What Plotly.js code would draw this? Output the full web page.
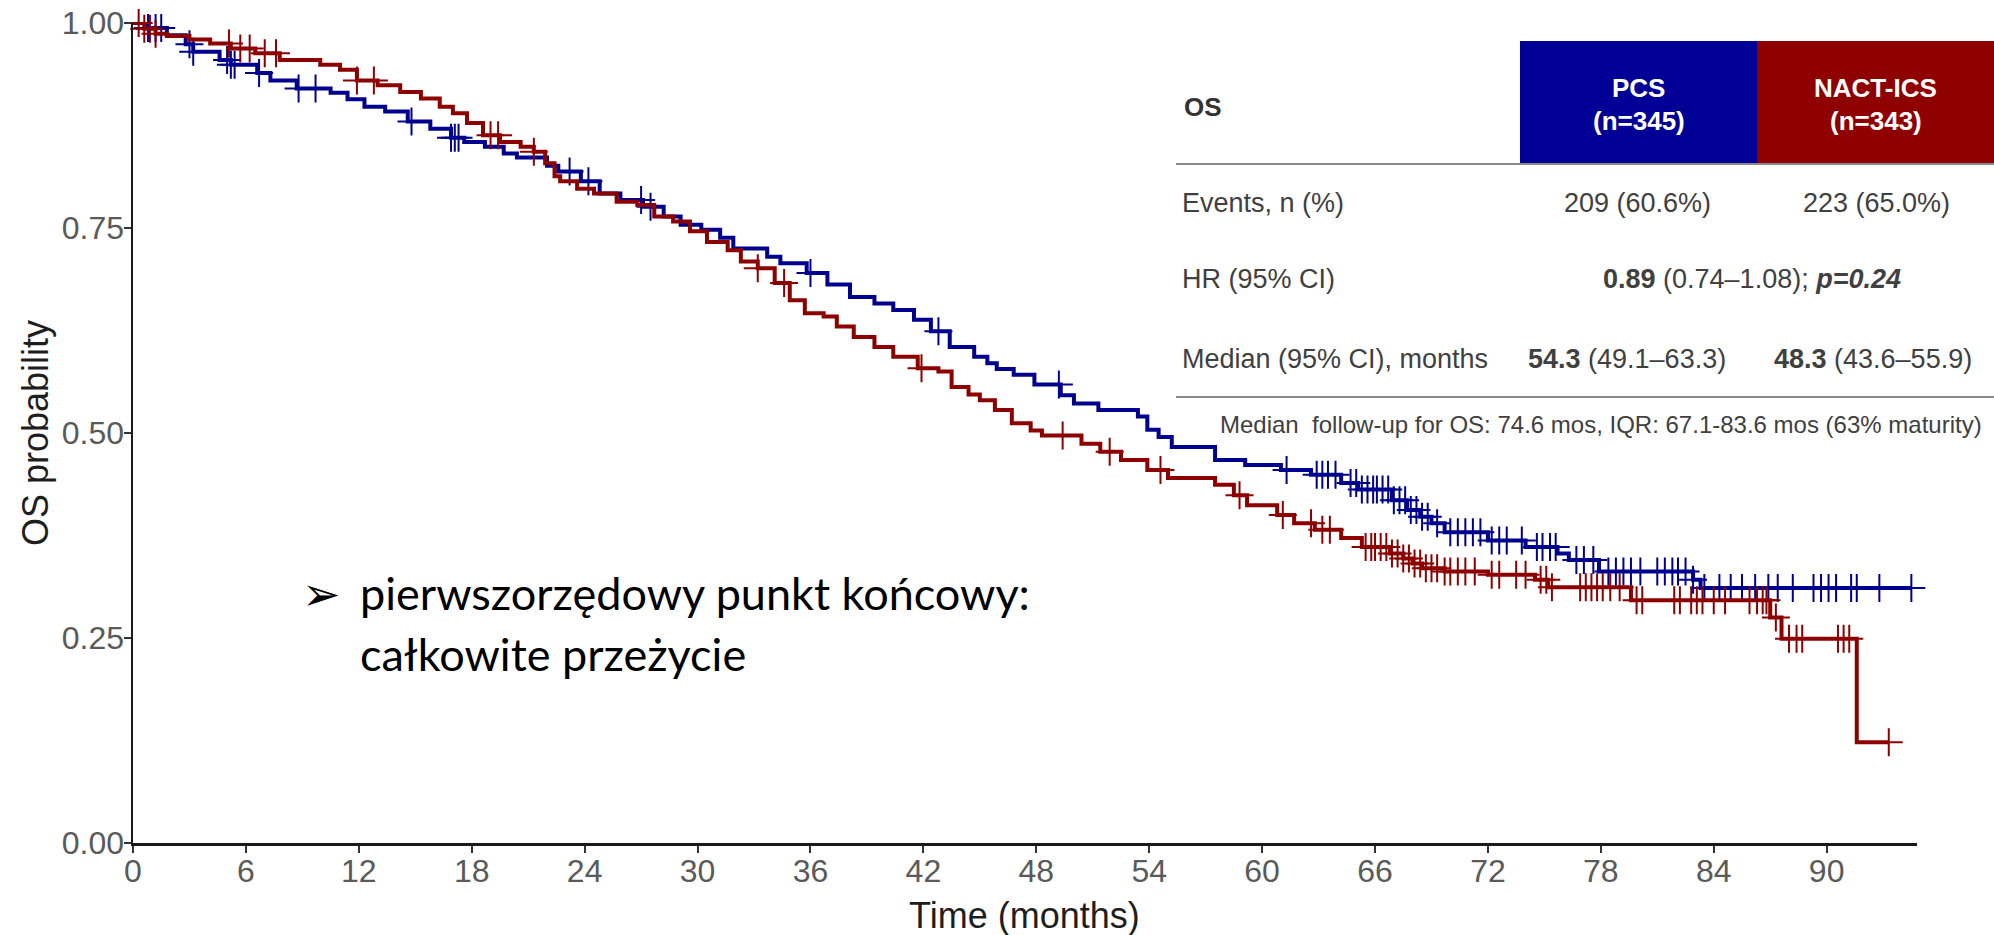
<!DOCTYPE html>
<html>
<head>
<meta charset="utf-8">
<script src="https://cdn.plot.ly/plotly-3.0.1.min.js"></script>
<style>html,body{margin:0;padding:0;background:#fff;}#chart{width:1994px;height:935px;}</style>
</head>
<body>
<div id="chart"></div>
<script>
// ---------- DATA ----------
// PCS (blue): step times (months) and survival after each step
const pcsTime = [0, 0.7, 1.8, 2.8, 3.2, 4.6, 5.2, 6.6, 7.3, 8.7, 10.5, 11.4, 12.3, 13.4, 14.6, 15.8, 16.9, 17.6, 18.7, 19.7, 20.4,
  22.0, 22.6, 23.8, 24.8, 25.9, 27.1, 28.2, 29.1, 30.2, 31.2, 31.9, 33.7, 34.4, 35.8, 36.9, 38.1, 39.4, 40.4, 41.5, 42.4, 43.4,
  44.7, 45.4, 45.9, 46.8, 47.9, 49.3, 50.0, 51.3, 53.4, 53.9, 54.5, 55.2, 57.5, 59.1, 61.0, 62.6, 64.2, 65.1, 66.9, 67.7, 68.4,
  69.0, 69.7, 72.0, 74.0, 75.7, 76.3, 77.9, 82.9, 83.3];
const pcsSurv = [1.0, 0.994, 0.985, 0.974, 0.965, 0.955, 0.949, 0.939, 0.930, 0.920, 0.915, 0.907, 0.898, 0.892, 0.880, 0.871, 0.860, 0.855, 0.849, 0.841, 0.836,
  0.826, 0.819, 0.807, 0.792, 0.784, 0.776, 0.764, 0.754, 0.748, 0.738, 0.725, 0.715, 0.707, 0.695, 0.681, 0.666, 0.658, 0.650, 0.638, 0.624, 0.605,
  0.593, 0.585, 0.578, 0.571, 0.559, 0.546, 0.536, 0.528, 0.520, 0.504, 0.495, 0.483, 0.467, 0.461, 0.455, 0.449, 0.439, 0.431, 0.418, 0.406, 0.398,
  0.390, 0.379, 0.369, 0.361, 0.353, 0.345, 0.331, 0.321, 0.311];
const pcsCensor = [0.8, 1.2, 1.5, 3.0, 3.2, 5.0, 5.2, 5.4, 6.7, 8.8, 9.7, 14.8, 16.9, 17.1, 17.3, 23.2, 24.2, 27.0, 27.5, 36.0, 42.8, 49.2,
  61.3, 62.9, 63.2, 63.5, 63.9, 64.7, 65.0, 65.3, 65.6, 65.9, 66.1, 66.4, 66.7, 67.0, 67.3, 67.6, 67.9, 68.2, 68.5, 68.8, 69.3, 70.0,
  70.4, 70.8, 71.2, 71.6, 72.2, 72.6, 73.0, 73.8, 74.6, 74.9, 75.3, 75.6, 76.7, 77.1, 77.6, 78.4, 78.8, 79.2, 79.6, 80.1, 81.0, 81.4,
  81.8, 82.1, 82.5, 82.9, 83.5, 84.3, 84.9, 85.5, 86.2, 86.9, 87.4, 88.2, 89.3, 89.7, 90.1, 90.5, 91.3, 91.6, 92.8, 94.5];

// NACT-ICS (red)
const nactTime = [0, 0.6, 1.2, 1.8, 3.0, 4.1, 5.2, 6.5, 7.8, 9.95, 11.0, 11.9, 13.0, 14.2, 15.3, 16.3, 17.0, 17.75, 18.6, 19.5, 20.6, 21.3,
  21.9, 22.4, 22.7, 23.6, 24.5, 25.7, 26.8, 27.7, 28.7, 29.6, 30.5, 31.6, 32.3, 33.2, 34.1, 34.9, 35.7, 36.7, 37.4, 38.3, 39.4, 40.4,
  41.7, 42.8, 43.5, 44.4, 45.0, 45.8, 46.7, 47.7, 48.3, 50.4, 51.4, 52.5, 53.9, 55.0, 57.5, 58.5, 59.2, 60.8, 61.7, 62.8, 64.2, 65.3,
  66.8, 67.5, 68.0, 68.5, 69.7, 72.0, 74.5, 75.2, 79.6, 87.0, 87.6, 91.6];
const nactSurv = [1.0, 0.993, 0.987, 0.984, 0.980, 0.975, 0.969, 0.963, 0.955, 0.949, 0.943, 0.930, 0.924, 0.916, 0.908, 0.898, 0.890, 0.878, 0.863, 0.855, 0.849, 0.843,
  0.829, 0.813, 0.807, 0.798, 0.792, 0.782, 0.778, 0.764, 0.758, 0.746, 0.733, 0.723, 0.709, 0.701, 0.683, 0.662, 0.646, 0.642, 0.630, 0.617, 0.605, 0.593,
  0.579, 0.575, 0.556, 0.547, 0.540, 0.528, 0.512, 0.503, 0.497, 0.487, 0.477, 0.467, 0.455, 0.445, 0.437, 0.424, 0.412, 0.400, 0.390, 0.382, 0.372, 0.361,
  0.353, 0.347, 0.341, 0.335, 0.331, 0.327, 0.321, 0.312, 0.296, 0.275, 0.249, 0.123];
const nactCensor = [0.3, 0.6, 0.9, 1.2, 5.1, 5.7, 6.2, 7.0, 7.6, 11.9, 12.8, 19.0, 19.4, 21.3, 33.2, 34.6, 41.9, 49.4, 51.9, 54.6, 58.8,
  61.1, 62.6, 63.2, 63.6, 65.5, 65.8, 66.0, 66.3, 66.6, 66.9, 67.2, 67.5, 67.8, 68.1, 68.4, 68.7, 69.0, 69.3, 69.7, 70.0, 70.4, 70.8,
  71.3, 72.2, 72.6, 73.5, 74.0, 74.8, 75.1, 75.4, 76.9, 77.2, 77.5, 77.8, 78.1, 78.5, 79.0, 79.9, 80.2, 81.9, 82.2, 82.8, 83.1, 83.4,
  84.0, 84.6, 85.9, 86.3, 86.6, 86.8, 87.3, 88.0, 88.4, 88.7, 90.6, 90.9, 91.2, 93.3];

const xTicks = [0, 6, 12, 18, 24, 30, 36, 42, 48, 54, 60, 66, 72, 78, 84, 90];
const yTicks = [0, 0.25, 0.5, 0.75, 1];
const xMax = 94.8;

// table content
const groupNames = ['PCS', 'NACT-ICS'];
const groupN = ['(n=345)', '(n=343)'];
const rowLabels = ['Events, n (%)', 'HR (95% CI)', 'Median (95% CI), months'];
const eventsCells = ['209 (60.6%)', '223 (65.0%)'];
const hrCell = '<b>0.89</b> (0.74–1.08); <b><i>p=0.24</i></b>';
const medianCells = ['<b>54.3</b> (49.1–63.3)', '<b>48.3</b> (43.6–55.9)'];
const footnote = 'Median  follow-up for OS: 74.6 mos, IQR: 67.1-83.6 mos (63% maturity)';
const bulletLines = ['pierwszorzędowy punkt końcowy:', 'całkowite przeżycie'];

// ---------- BUILD ----------
const BLUE = '#00008f', RED = '#8d0000';
const BOXBLUE = '#000096', BOXRED = '#8f0000';

function stepAt(times, surv, t) {
  let v = surv[0];
  for (let i = 0; i < times.length; i++) { if (times[i] <= t) v = surv[i]; else break; }
  return v;
}
function curve(times, surv, censor, color) {
  const end = Math.max(times[times.length - 1], ...censor);
  const line = {
    x: times.concat([end]), y: surv.concat([surv[surv.length - 1]]),
    mode: 'lines', line: {shape: 'hv', color: color, width: 4, simplify: false}, cliponaxis: false, hoverinfo: 'skip'
  };
  const marks = {
    x: censor, y: censor.map(t => stepAt(times, surv, t)), mode: 'markers', cliponaxis: false,
    marker: {symbol: 'cross-thin', size: 20, color: color, line: {color: color, width: 2}}, hoverinfo: 'skip'
  };
  return [line, marks];
}

const M = {l: 133, r: 77, t: 23, b: 92};
const W = 1994, H = 935;
const PW = W - M.l - M.r, PH = H - M.t - M.b;
const px = v => (v - M.l) / PW;
const py = v => (H - M.b - v) / PH;

const axisFont = {family: 'Liberation Sans, Arial, sans-serif', size: 32, color: '#5a5a5a'};
const tblFont = (size, color) => ({family: 'Liberation Sans, Arial, sans-serif', size: size, color: color});

const ann = [];
function A(text, x, y, xa, font, extra) {
  ann.push(Object.assign({text: text, x: px(x), y: py(y), xref: 'paper', yref: 'paper', xanchor: xa, yanchor: 'middle', showarrow: false, font: font}, extra || {}));
}
// axis titles
A('OS probability', 35, 433, 'center', tblFont(36, '#1e1e1e'), {textangle: -90});
A('Time (months)', 1024, 915, 'center', tblFont(36, '#1e1e1e'));
// table
const colC = [1638.5, 1875.5];
A('<b>OS</b>', 1182, 107, 'left', tblFont(26, '#333'));
groupNames.forEach((g, i) => { A('<b>' + g + '</b>', colC[i], 88, 'center', tblFont(26, '#ffffff')); A('<b>' + groupN[i] + '</b>', colC[i], 121, 'center', tblFont(26, '#ffffff')); });
A(rowLabels[0], 1180, 203, 'left', tblFont(27, '#404040'));
A(eventsCells[0], 1637, 203, 'center', tblFont(27, '#404040'));
A(eventsCells[1], 1876, 203, 'center', tblFont(27, '#404040'));
A(rowLabels[1], 1180, 279, 'left', tblFont(27, '#404040'));
A(hrCell, 1752, 279, 'center', tblFont(27, '#404040'));
A(rowLabels[2], 1180, 359, 'left', tblFont(27, '#404040'));
A(medianCells[0], 1627, 359, 'center', tblFont(27, '#404040'));
A(medianCells[1], 1873, 359, 'center', tblFont(27, '#404040'));
A(footnote, 1601, 424, 'center', tblFont(24, '#404040'));
// bullet text
A('➢', 321, 594, 'center', {family: 'DejaVu Sans', size: 46, color: '#000'});
A(bulletLines[0], 358, 593, 'left', {family: 'Lato, Noto Sans, sans-serif', size: 45, color: '#000'});
A(bulletLines[1], 358, 654, 'left', {family: 'Lato, Noto Sans, sans-serif', size: 45, color: '#000'});

const shapes = [
  {type: 'rect', xref: 'paper', yref: 'paper', x0: px(1520), x1: px(1757), y0: py(164), y1: py(41), fillcolor: BOXBLUE, line: {width: 0}, layer: 'above'},
  {type: 'rect', xref: 'paper', yref: 'paper', x0: px(1757), x1: px(1994), y0: py(164), y1: py(41), fillcolor: BOXRED, line: {width: 0}, layer: 'above'},
  {type: 'line', xref: 'paper', yref: 'paper', x0: px(1176), x1: px(1994), y0: py(164), y1: py(164), line: {color: '#8a8a8a', width: 2}, layer: 'above'},
  {type: 'line', xref: 'paper', yref: 'paper', x0: px(1176), x1: px(1994), y0: py(397), y1: py(397), line: {color: '#8a8a8a', width: 2}, layer: 'above'}
];

const data = [].concat(curve(pcsTime, pcsSurv, pcsCensor, BLUE), curve(nactTime, nactSurv, nactCensor, RED));

const layout = {
  width: W, height: H, margin: M, paper_bgcolor: '#fff', plot_bgcolor: '#fff', showlegend: false,
  xaxis: {range: [0, xMax], tickmode: 'array', tickvals: xTicks, ticktext: xTicks.map(String), ticks: 'outside', ticklen: 7, tickwidth: 2, tickcolor: '#333',
    ticklabelstandoff: -9,
    showline: true, linecolor: '#1a1a1a', linewidth: 2.5, showgrid: false, zeroline: false, tickfont: axisFont, fixedrange: true},
  yaxis: {range: [0, 1], tickmode: 'array', tickvals: yTicks, ticktext: yTicks.map(v => v.toFixed(2)), ticks: 'outside', ticklen: 7, tickwidth: 2, tickcolor: '#333',
    ticklabelstandoff: -7,
    showline: true, linecolor: '#1a1a1a', linewidth: 2.5, showgrid: false, zeroline: false, tickfont: axisFont, fixedrange: true},
  annotations: ann, shapes: shapes
};
Plotly.newPlot('chart', data, layout, {staticPlot: true, displayModeBar: false});
</script>
</body>
</html>
